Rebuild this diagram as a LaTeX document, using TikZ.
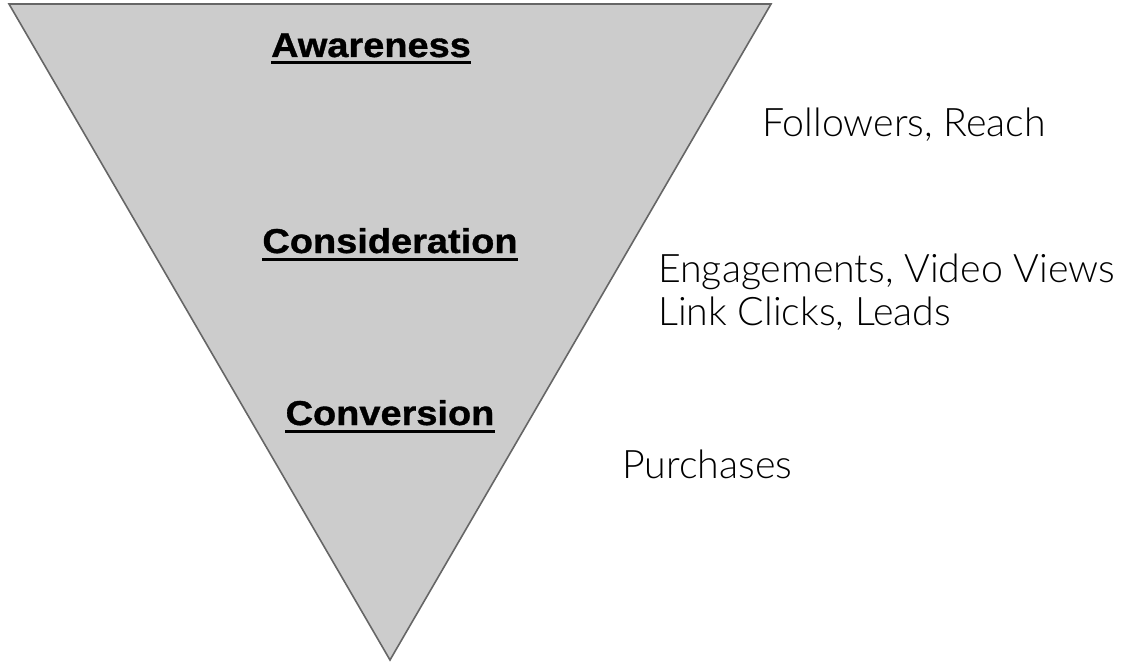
\documentclass[tikz,border=0pt]{standalone}
\usepackage{fontspec}
\setmainfont{Liberation Sans}
\newfontfamily\stagefont{Liberation Sans}[FakeStretch=1.1,FakeBold=1]
\newfontfamily\lightfont{Lato Light}
\usetikzlibrary{calc}
\begin{document}
\begin{tikzpicture}[x=1pt,y=-1pt,
  funnel/.style={draw=black!60,line width=1.6pt,fill=black!20,line join=miter},
  stage/.style={inner sep=0pt,anchor=base,font=\fontsize{34.5}{40}\stagefont\bfseries},
  metric/.style={inner sep=0pt,anchor=base west,align=left,font=\fontsize{39.3}{43}\selectfont\lightfont},
  uline/.style={line width=3pt}]
\useasboundingbox (0,0) rectangle (1123,663);
% funnel shape
\draw[funnel] (9,4) -- (771,4) -- (390,660) -- cycle;
% stage labels
\node[stage] (aw) at (371,57) {Awareness};
\node[stage] (co) at (390,253) {Consideration};
\node[stage] (cv) at (390,425) {Conversion};
\foreach \n in {aw,co,cv}
  \draw[uline] ($(\n.base west)+(0,6)$) -- ($(\n.base east)+(0,6)$);
% metrics
\node[metric] (m1) at (762,137) {Followers, Reach};
\node[metric] (m2) at (658,282) {Engagements, Video Views};
\node[metric] (m3) at (658,325) {Link Clicks, Leads};
\node[metric] (m4) at (622,478) {Purchases};
\end{tikzpicture}
\end{document}
